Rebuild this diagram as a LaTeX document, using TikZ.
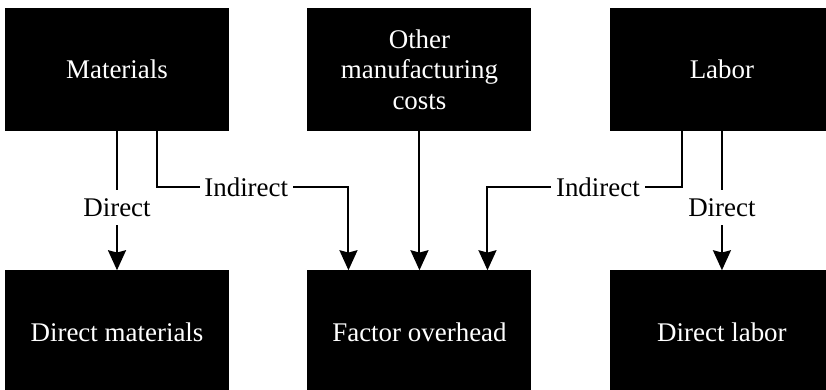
\documentclass[tikz,border=0pt]{standalone}
\usepackage{fontspec}
\setmainfont{Liberation Serif}
\usetikzlibrary{positioning, arrows.meta}

\begin{document}
\begin{tikzpicture}[
        node distance=4.17cm and 2.34cm,
        box/.style={fill=black, text=white, minimum width=6.72cm, minimum height=3.69cm, align=center, inner sep=0pt, font=\fontsize{23}{26}\selectfont},
        lbl/.style={fill=white, inner xsep=4pt, inner ysep=7pt, font=\fontsize{23}{26}\selectfont},
        arrow/.style={-{Stealth[length=6mm, width=5.4mm, inset=0.7mm]}, line width=1.7pt}
    ]
        \clip (0,0) rectangle (24.78,-11.7);

        % Nodes
        \node[box] (materials) at (3.51,-2.085) {Materials};
        \node[box, right=of materials] (other) {Other\\manufacturing\\costs};
        \node[box, right=of other] (labor) {Labor};
        \node[box, below=of materials] (dirmat) {Direct materials};
        \node[box, below=of other] (overhead) {Factor overhead};
        \node[box, below=of labor] (dirlab) {Direct labor};

        % Ends of the indirect lines
        \coordinate (ms) at ([xshift=1.2cm]materials.south);
        \coordinate (ls) at ([xshift=-1.2cm]labor.south);
        \coordinate (oa) at ([xshift=-2.13cm]overhead.north);
        \coordinate (ob) at ([xshift=2.04cm]overhead.north);

        % Arrows
        \draw[arrow] (materials) -- node[lbl, pos=0.55] {Direct} (dirmat);
        \draw[arrow] (ms) -- ++(0,-1.68) -| node[lbl, pos=0.233] {Indirect} (oa);
        \draw[arrow] (other) -- (overhead);
        \draw[arrow] (ls) -- ++(0,-1.68) -| node[lbl, pos=0.216] {Indirect} (ob);
        \draw[arrow] (labor) -- node[lbl, pos=0.55] {Direct} (dirlab);
    \end{tikzpicture}
\end{document}
